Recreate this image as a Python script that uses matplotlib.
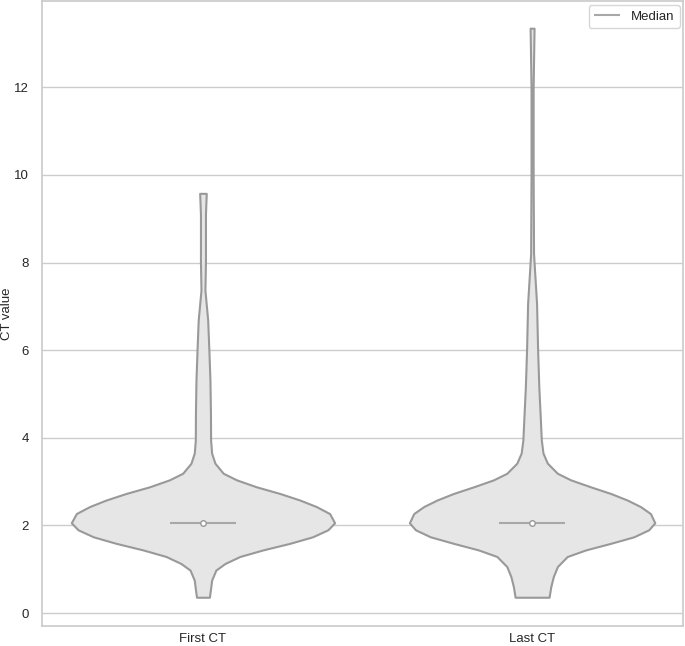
import numpy as np
import matplotlib
matplotlib.use("Agg")
import matplotlib.pyplot as plt
import seaborn as sns

# violin outlines: CT value and relative half-width (1.0 = widest)
first_ct_y = [0.36, 0.56, 0.75, 0.98, 1.13, 1.29, 1.44, 1.59, 1.74, 1.90, 2.06, 2.27, 2.43,
              2.58, 2.73, 2.88, 3.04, 3.19, 3.42, 3.65, 3.95, 4.56, 5.32, 6.0, 6.69, 7.37,
              8.02, 9.1, 9.58]
first_ct_w = [0.049, 0.058, 0.066, 0.098, 0.167, 0.280, 0.455, 0.659, 0.833, 0.949, 1.0,
              0.962, 0.861, 0.735, 0.583, 0.407, 0.255, 0.154, 0.091, 0.066, 0.058, 0.057,
              0.053, 0.045, 0.036, 0.015, 0.019, 0.019, 0.025]

last_ct_y = [0.36, 0.60, 0.83, 1.06, 1.29, 1.44, 1.59, 1.74, 1.90, 2.06, 2.27, 2.43, 2.58,
             2.73, 2.88, 3.04, 3.19, 3.42, 3.65, 3.95, 4.41, 5.17, 6.0, 7.07, 8.0, 8.21,
             10.0, 12.0, 13.35]
last_ct_w = [0.129, 0.142, 0.161, 0.192, 0.267, 0.407, 0.596, 0.773, 0.886, 0.932, 0.899,
             0.823, 0.722, 0.596, 0.445, 0.293, 0.192, 0.116, 0.083, 0.070, 0.063, 0.051,
             0.042, 0.034, 0.015, 0.011, 0.008, 0.008, 0.015]

categories = ["First CT", "Last CT"]
medians = [2.06, 2.06]

sns.set_theme(style="whitegrid")
plt.rcParams['font.family'] = ['Liberation Sans', 'DejaVu Sans']

fig = plt.figure(figsize=(6.85, 6.46), dpi=100)
ax = fig.add_axes([0.0618, 0.0314, 0.936, 0.967])

profiles = [(first_ct_y, first_ct_w), (last_ct_y, last_ct_w)]
for i, (ys, ws) in enumerate(profiles):
    ys = np.array(ys)
    ws = np.array(ws) * 0.4
    ax.fill_betweenx(ys, i - ws, i + ws, facecolor="#e6e6e6", edgecolor="#999999",
                     linewidth=1.5, joinstyle="round", zorder=2)

for i, m in enumerate(medians):
    ax.hlines(m, i - 0.1, i + 0.1, color="#a8a8a8", linewidth=1.5, zorder=3,
              label="Median" if i == 0 else None)
    ax.plot(i, m, "o", markersize=4, markerfacecolor="white",
            markeredgecolor="#999999", markeredgewidth=1, zorder=4)

ax.set_xticks(range(len(categories)))
ax.set_xticklabels(categories, fontsize=9.5)
ax.tick_params(axis="x", length=0, pad=5)
ax.set_xlim(-0.488, 1.46)
ax.set_ylim(-0.29, 13.97)
ax.set_yticks([0, 2, 4, 6, 8, 10, 12])
ax.tick_params(axis="y", labelsize=9.5)
ax.set_ylabel("CT value", fontsize=9.5)
ax.yaxis.set_label_coords(-0.046, 0.5)
ax.grid(axis="x", visible=False)
ax.legend(loc="upper right", fontsize=9.5, borderaxespad=0.3)

fig.savefig("out.png", dpi=100)
